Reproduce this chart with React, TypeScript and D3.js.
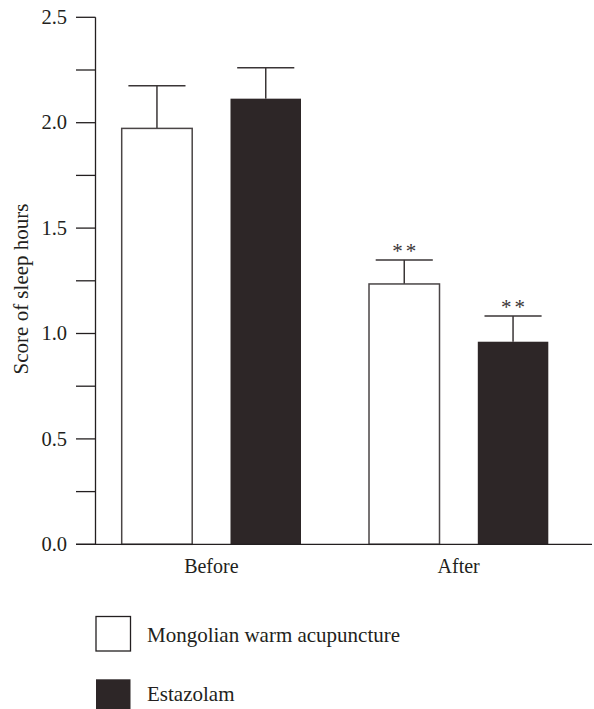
import React from "react";
import * as d3 from "d3";

const categories = ["Before", "After"];
const seriesNames = ["Mongolian warm acupuncture", "Estazolam"];
const acupunctureMeans = [1.973, 1.235];
const acupunctureErrors = [0.202, 0.114];
const estazolamMeans = [2.114, 0.961];
const estazolamErrors = [0.147, 0.122];
const significance = ["", "**"];
const yTicks = [0, 0.25, 0.5, 0.75, 1.0, 1.25, 1.5, 1.75, 2.0, 2.25, 2.5];
const yTickLabels = [0, 0.5, 1.0, 1.5, 2.0, 2.5];

const W = 594;
const H = 709;
const DARK = "#2d2627";
const TEXT = "#231f20";
const FONT = "'Liberation Serif', 'Times New Roman', serif";

export default function App() {
  const y = d3.scaleLinear().domain([0, 2.5]).range([544.3, 17.3]);
  const x0 = d3.scaleBand().domain(categories).range([121.7, 548.3]).paddingInner(0.275).paddingOuter(0);
  const x1 = d3.scaleBand().domain(seriesNames).range([0, x0.bandwidth()]).paddingInner(0.352).paddingOuter(0);
  const series = [
    { name: seriesNames[0], means: acupunctureMeans, errs: acupunctureErrors, fill: "#ffffff" },
    { name: seriesNames[1], means: estazolamMeans, errs: estazolamErrors, fill: DARK },
  ];
  const bw = x1.bandwidth();
  const capW = bw * 0.81;
  const legendRectY = [616.5, 679.3];
  const legendTextY = [641.7, 700.7];
  return (
    <svg width={W} height={H} style={{ position: "absolute", left: 0, top: 0, background: "#fff" }} fontFamily={FONT}>
      {series.map((s) =>
        categories.map((c, i) => {
          const bx = (x0(c) ?? 0) + (x1(s.name) ?? 0);
          const cx = bx + bw / 2;
          const top = y(s.means[i]);
          const et = y(s.means[i] + s.errs[i]);
          return (
            <g key={s.name + c}>
              <line x1={cx} x2={cx} y1={top} y2={et} stroke="#3a3536" strokeWidth={1.5} />
              <line x1={cx - capW / 2} x2={cx + capW / 2} y1={et} y2={et} stroke="#3a3536" strokeWidth={1.5} />
              <rect
                x={bx}
                y={top}
                width={bw}
                height={y(0) - top}
                fill={s.fill}
                stroke={s.fill === DARK ? "none" : "#4a4546"}
                strokeWidth={1.5}
              />
              {significance[i] && (
                <text x={cx + 1.5} y={et - 2} textAnchor="middle" fontSize={21} fill="#3a3536" letterSpacing={3}>
                  {significance[i]}
                </text>
              )}
            </g>
          );
        })
      )}
      {/* axes */}
      <line x1={95.5} x2={95.5} y1={y(2.5)} y2={y(0)} stroke={TEXT} strokeWidth={1.3} />
      <line x1={76} x2={592} y1={y(0)} y2={y(0)} stroke={TEXT} strokeWidth={1.3} />
      {yTicks.map((t) => (
        <line key={t} x1={76} x2={95.5} y1={y(t)} y2={y(t)} stroke={TEXT} strokeWidth={1.3} />
      ))}
      {yTickLabels.map((t) => (
        <text key={t} x={67} y={y(t)} dy="0.33em" textAnchor="end" fontSize={20.5} fill={TEXT}>
          {t.toFixed(1)}
        </text>
      ))}
      {categories.map((c) => (
        <text key={c} x={(x0(c) ?? 0) + x0.bandwidth() / 2} y={572.5} textAnchor="middle" fontSize={20} fill={TEXT}>
          {c}
        </text>
      ))}
      <text transform={`translate(28, 289) rotate(-90)`} textAnchor="middle" fontSize={21} fill={TEXT}>
        Score of sleep hours
      </text>
      {/* legend */}
      {series.map((s, i) => (
        <g key={s.name}>
          <rect x={96} y={legendRectY[i]} width={34.5} height={34.5} fill={s.fill} stroke={s.fill === DARK ? "none" : TEXT} strokeWidth={1.3} />
          <text x={147} y={legendTextY[i]} fontSize={21} fill={TEXT}>
            {s.name}
          </text>
        </g>
      ))}
    </svg>
  );
}
